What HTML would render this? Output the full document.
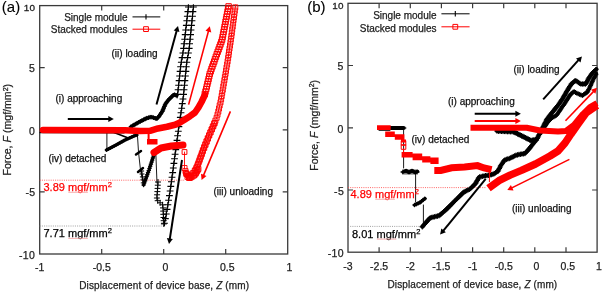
<!DOCTYPE html>
<html><head><meta charset="utf-8"><style>
html,body{margin:0;padding:0;background:#fff;width:602px;height:292px;overflow:hidden}
svg{display:block;font-family:"Liberation Sans",sans-serif;filter:blur(0.3px)}
</style></head><body>
<svg width="602" height="292" viewBox="0 0 602 292">
<rect x="39.7" y="5.6" width="248.0" height="248.4" fill="none" stroke="#3a3a3a" stroke-width="1.3"/>
<path d="M101.7,254.0v-5M101.7,5.6v5M163.7,254.0v-5M163.7,5.6v5M225.7,254.0v-5M225.7,5.6v5M39.7,67.7h5M287.7,67.7h-5M39.7,129.8h5M287.7,129.8h-5M39.7,191.9h5M287.7,191.9h-5" stroke="#3a3a3a" stroke-width="1.2" fill="none"/>
<line x1="39.7" y1="180.2" x2="185" y2="180.2" stroke="#ff4040" stroke-width="0.8" stroke-dasharray="1,1.2"/>
<line x1="39.7" y1="226" x2="164" y2="226" stroke="#888" stroke-width="0.8" stroke-dasharray="1,1.2"/>
<polyline points="40.0,132.6 124.0,133.0" fill="none" stroke="#000" stroke-width="1.2" stroke-linejoin="round" stroke-linecap="round"/>
<polyline points="106.9,133.0 106.9,149.0" fill="none" stroke="#000" stroke-width="0.9" stroke-linejoin="round" stroke-linecap="round"/>
<polyline points="106.5,150.0 116.0,145.0 125.0,140.0 134.0,136.0 137.0,135.0" fill="none" stroke="#000" stroke-width="3.2" stroke-linejoin="round" stroke-linecap="round"/>
<path d="M104.7,150.0h3.6M106.5,148.2v3.6M106.6,149.0h3.6M108.4,147.2v3.6M108.6,148.0h3.6M110.4,146.2v3.6M110.5,146.9h3.6M112.3,145.1v3.6M112.5,145.9h3.6M114.3,144.1v3.6M114.4,144.9h3.6M116.2,143.1v3.6M116.4,143.8h3.6M118.2,142.0v3.6M118.3,142.7h3.6M120.1,140.9v3.6M120.2,141.7h3.6M122.0,139.9v3.6M122.1,140.6h3.6M123.9,138.8v3.6M124.1,139.6h3.6M125.9,137.8v3.6M126.1,138.7h3.6M127.9,136.9v3.6M128.1,137.8h3.6M129.9,136.0v3.6M130.1,136.9h3.6M131.9,135.1v3.6M132.1,136.0h3.6M133.9,134.2v3.6M134.2,135.3h3.6M136.0,133.5v3.6" stroke="#000" stroke-width="1" fill="none"/>
<polyline points="114.0,132.5 127.0,137.5" fill="none" stroke="#000" stroke-width="1.6" stroke-linejoin="round" stroke-linecap="round"/>
<polyline points="137.5,136.0 138.5,152.0 140.5,170.0 143.6,185.0" fill="none" stroke="#000" stroke-width="0.9" stroke-linejoin="round" stroke-linecap="round"/>
<polyline points="136.0,154.5 141.0,151.0" fill="none" stroke="#000" stroke-width="2.5" stroke-linejoin="round" stroke-linecap="round"/>
<polyline points="138.0,172.0 143.0,168.0" fill="none" stroke="#000" stroke-width="2.5" stroke-linejoin="round" stroke-linecap="round"/>
<path d="M139.1,171.0h5.0M141.6,168.5v5.0M139.5,174.0h5.0M142.0,171.5v5.0M139.9,176.9h5.0M142.4,174.4v5.0M140.4,179.9h5.0M142.9,177.4v5.0M140.8,182.9h5.0M143.3,180.4v5.0" stroke="#000" stroke-width="1" fill="none"/>
<polyline points="143.6,185.0 149.0,170.0 154.0,154.6" fill="none" stroke="#000" stroke-width="3.2" stroke-linejoin="round" stroke-linecap="round"/>
<path d="M141.4,185.0h4.4M143.6,182.8v4.4M142.1,182.9h4.4M144.3,180.7v4.4M142.9,180.9h4.4M145.1,178.7v4.4M143.6,178.8h4.4M145.8,176.6v4.4M144.4,176.7h4.4M146.6,174.5v4.4M145.1,174.7h4.4M147.3,172.5v4.4M145.9,172.6h4.4M148.1,170.4v4.4M146.6,170.5h4.4M148.8,168.3v4.4M147.3,168.4h4.4M149.5,166.2v4.4M148.0,166.3h4.4M150.2,164.1v4.4M148.7,164.2h4.4M150.9,162.0v4.4M149.4,162.1h4.4M151.6,159.9v4.4M150.0,160.1h4.4M152.2,157.9v4.4M150.7,158.0h4.4M152.9,155.8v4.4M151.4,155.9h4.4M153.6,153.7v4.4" stroke="#000" stroke-width="1" fill="none"/>
<polyline points="155.9,154.6 157.0,183.0" fill="none" stroke="#000" stroke-width="0.9" stroke-linejoin="round" stroke-linecap="round"/>
<path d="M155.0,182.0h6.0M158.0,179.0v6.0M154.8,185.2h6.0M157.8,182.2v6.0M154.6,188.4h6.0M157.6,185.4v6.0M154.4,191.6h6.0M157.4,188.6v6.0M154.1,194.8h6.0M157.1,191.8v6.0M153.9,198.0h6.0M156.9,195.0v6.0M154.7,200.7h6.0M157.7,197.7v6.0M157.1,202.8h6.0M160.1,199.8v6.0M159.6,204.8h6.0M162.6,201.8v6.0M160.0,207.9h6.0M163.0,204.9v6.0M160.2,211.1h6.0M163.2,208.1v6.0M160.3,214.3h6.0M163.3,211.3v6.0M160.5,217.5h6.0M163.5,214.5v6.0M160.7,220.7h6.0M163.7,217.7v6.0M160.9,223.9h6.0M163.9,220.9v6.0" stroke="#000" stroke-width="1" fill="none"/>
<polyline points="130.9,126.8 139.5,121.8 146.7,118.2 151.0,116.9 153.9,117.8 156.7,118.8 158.9,116.5 162.5,111.0 165.4,104.0 168.2,100.2 171.1,97.3 174.0,94.5 176.5,95.5" fill="none" stroke="#000" stroke-width="3.6" stroke-linejoin="round" stroke-linecap="round"/>
<path d="M128.6,126.8h4.6M130.9,124.5v4.6M130.2,125.9h4.6M132.5,123.6v4.6M131.7,125.0h4.6M134.0,122.7v4.6M133.3,124.1h4.6M135.6,121.8v4.6M134.8,123.2h4.6M137.1,120.9v4.6M136.4,122.3h4.6M138.7,120.0v4.6M138.0,121.4h4.6M140.3,119.1v4.6M139.6,120.6h4.6M141.9,118.3v4.6M141.2,119.8h4.6M143.5,117.5v4.6M142.8,119.0h4.6M145.1,116.7v4.6M144.4,118.2h4.6M146.7,115.9v4.6M146.1,117.7h4.6M148.4,115.4v4.6M147.8,117.2h4.6M150.1,114.9v4.6M149.6,117.2h4.6M151.9,114.9v4.6M151.3,117.7h4.6M153.6,115.4v4.6M153.0,118.3h4.6M155.3,116.0v4.6M154.6,118.6h4.6M156.9,116.3v4.6M155.9,117.3h4.6M158.2,115.0v4.6M157.0,115.9h4.6M159.3,113.6v4.6M158.0,114.4h4.6M160.3,112.1v4.6M159.0,112.9h4.6M161.3,110.6v4.6M160.0,111.4h4.6M162.3,109.1v4.6M160.7,109.8h4.6M163.0,107.5v4.6M161.4,108.1h4.6M163.7,105.8v4.6M162.1,106.4h4.6M164.4,104.1v4.6M162.8,104.8h4.6M165.1,102.5v4.6M163.7,103.2h4.6M166.0,100.9v4.6M164.7,101.8h4.6M167.0,99.5v4.6M165.8,100.3h4.6M168.1,98.0v4.6M167.1,99.0h4.6M169.4,96.7v4.6M168.3,97.8h4.6M170.6,95.5v4.6M169.6,96.5h4.6M171.9,94.2v4.6M170.9,95.3h4.6M173.2,93.0v4.6M172.4,94.8h4.6M174.7,92.5v4.6M174.0,95.4h4.6M176.3,93.1v4.6" stroke="#000" stroke-width="1" fill="none"/>
<polyline points="188.5,6.0 183.4,50.0 180.8,65.0 177.2,98.0" fill="none" stroke="#000" stroke-width="1" stroke-linejoin="round" stroke-linecap="round"/>
<polyline points="193.5,6.0 189.0,50.0 186.8,62.0 183.2,98.0 179.1,125.0 170.3,190.0 166.4,213.6 164.0,226.0" fill="none" stroke="#000" stroke-width="1" stroke-linejoin="round" stroke-linecap="round"/>
<path d="M185.0,7.0h6.8M188.4,4.3v5.4M184.5,11.6h6.8M187.9,8.9v5.4M183.9,16.2h6.8M187.3,13.5v5.4M183.4,20.8h6.8M186.8,18.1v5.4M182.9,25.4h6.8M186.3,22.7v5.4M182.3,30.0h6.8M185.7,27.3v5.4M181.8,34.6h6.8M185.2,31.9v5.4M181.3,39.2h6.8M184.7,36.5v5.4M180.7,43.8h6.8M184.1,41.1v5.4M180.2,48.4h6.8M183.6,45.7v5.4M179.5,53.0h6.8M182.9,50.3v5.4M178.7,57.6h6.8M182.1,54.9v5.4M177.9,62.2h6.8M181.3,59.5v5.4M177.2,66.8h6.8M180.6,64.1v5.4M176.7,71.4h6.8M180.1,68.7v5.4M176.2,76.0h6.8M179.6,73.3v5.4M175.7,80.6h6.8M179.1,77.9v5.4M175.2,85.2h6.8M178.6,82.5v5.4M174.7,89.8h6.8M178.1,87.1v5.4M174.2,94.4h6.8M177.6,91.7v5.4" stroke="#000" stroke-width="1.1" fill="none"/>
<path d="M190.0,7.0h6.8M193.4,4.3v5.4M189.5,11.6h6.8M192.9,8.9v5.4M189.1,16.2h6.8M192.5,13.5v5.4M188.6,20.8h6.8M192.0,18.1v5.4M188.1,25.4h6.8M191.5,22.7v5.4M187.6,30.0h6.8M191.0,27.3v5.4M187.2,34.6h6.8M190.6,31.9v5.4M186.7,39.2h6.8M190.1,36.5v5.4M186.2,43.8h6.8M189.6,41.1v5.4M185.8,48.4h6.8M189.2,45.7v5.4M185.0,53.0h6.8M188.4,50.3v5.4M184.2,57.6h6.8M187.6,54.9v5.4M183.4,62.2h6.8M186.8,59.5v5.4M182.9,66.8h6.8M186.3,64.1v5.4M182.5,71.4h6.8M185.9,68.7v5.4M182.0,76.0h6.8M185.4,73.3v5.4M181.5,80.6h6.8M184.9,77.9v5.4M181.1,85.2h6.8M184.5,82.5v5.4M180.6,89.8h6.8M184.0,87.1v5.4M180.2,94.4h6.8M183.6,91.7v5.4M179.6,99.0h6.8M183.0,96.3v5.4M178.9,103.6h6.8M182.3,100.9v5.4M178.3,108.2h6.8M181.7,105.5v5.4M177.6,112.8h6.8M181.0,110.1v5.4M176.9,117.4h6.8M180.3,114.7v5.4M176.2,122.0h6.8M179.6,119.3v5.4M175.5,126.6h6.8M178.9,123.9v5.4M174.9,131.2h6.8M178.3,128.5v5.4M174.2,135.8h6.8M177.6,133.1v5.4M173.6,140.4h6.8M177.0,137.7v5.4M173.0,145.0h6.8M176.4,142.3v5.4M172.4,149.6h6.8M175.8,146.9v5.4M171.7,154.2h6.8M175.1,151.5v5.4M171.1,158.8h6.8M174.5,156.1v5.4M170.5,163.4h6.8M173.9,160.7v5.4M169.9,168.0h6.8M173.3,165.3v5.4M169.3,172.6h6.8M172.7,169.9v5.4M168.6,177.2h6.8M172.0,174.5v5.4M168.0,181.8h6.8M171.4,179.1v5.4M167.4,186.4h6.8M170.8,183.7v5.4M166.7,191.0h6.8M170.1,188.3v5.4M166.0,195.6h6.8M169.4,192.9v5.4M165.2,200.2h6.8M168.6,197.5v5.4M164.5,204.8h6.8M167.9,202.1v5.4M163.7,209.4h6.8M167.1,206.7v5.4M162.9,214.0h6.8M166.3,211.3v5.4M162.0,218.6h6.8M165.4,215.9v5.4M161.1,223.2h6.8M164.5,220.5v5.4" stroke="#000" stroke-width="1.1" fill="none"/>
<polyline points="43.0,130.0 125.0,130.2 140.0,131.0 150.0,130.8 158.0,128.4 167.0,126.8 175.0,124.8 180.0,122.5 185.0,119.4 190.0,116.2 195.0,112.5 198.5,107.4 201.5,102.0 204.8,95.0" fill="none" stroke="#f00" stroke-width="6.6" stroke-linejoin="round" stroke-linecap="round"/>
<rect x="147.6" y="134" width="2" height="5" fill="#f00"/>
<polyline points="204.8,94.0 206.5,88.0 209.6,74.4 214.0,62.0 222.0,40.0 228.9,5.0" fill="none" stroke="#f00" stroke-width="1" stroke-linejoin="round" stroke-linecap="round"/>
<path d="M202.1,91.3h5.4v5.4h-5.4zM202.8,88.8h5.4v5.4h-5.4zM203.5,86.3h5.4v5.4h-5.4zM204.1,83.8h5.4v5.4h-5.4zM204.7,81.2h5.4v5.4h-5.4zM205.3,78.7h5.4v5.4h-5.4zM205.9,76.2h5.4v5.4h-5.4zM206.5,73.6h5.4v5.4h-5.4zM207.1,71.1h5.4v5.4h-5.4zM208.0,68.7h5.4v5.4h-5.4zM208.8,66.2h5.4v5.4h-5.4zM209.7,63.8h5.4v5.4h-5.4zM210.6,61.3h5.4v5.4h-5.4zM211.5,58.9h5.4v5.4h-5.4zM212.3,56.4h5.4v5.4h-5.4zM213.2,54.0h5.4v5.4h-5.4zM214.1,51.5h5.4v5.4h-5.4zM215.0,49.1h5.4v5.4h-5.4zM215.9,46.7h5.4v5.4h-5.4zM216.8,44.2h5.4v5.4h-5.4zM217.7,41.8h5.4v5.4h-5.4zM218.6,39.3h5.4v5.4h-5.4zM219.4,36.9h5.4v5.4h-5.4zM219.9,34.3h5.4v5.4h-5.4zM220.4,31.8h5.4v5.4h-5.4zM220.9,29.2h5.4v5.4h-5.4zM221.4,26.7h5.4v5.4h-5.4zM221.9,24.1h5.4v5.4h-5.4zM222.4,21.6h5.4v5.4h-5.4zM222.9,19.0h5.4v5.4h-5.4zM223.4,16.5h5.4v5.4h-5.4zM223.9,13.9h5.4v5.4h-5.4zM224.4,11.4h5.4v5.4h-5.4zM224.9,8.8h5.4v5.4h-5.4zM225.4,6.2h5.4v5.4h-5.4zM225.9,3.7h5.4v5.4h-5.4z" stroke="#f00" stroke-width="1.0" fill="none"/>
<rect x="147" y="139" width="10.5" height="5.5" fill="#f00"/>
<polyline points="154.0,152.5 161.0,148.0 171.3,146.0 183.0,145.0" fill="none" stroke="#f00" stroke-width="7" stroke-linejoin="round" stroke-linecap="round"/>
<path d="M182.1,149.6h4.8v4.8h-4.8z" stroke="#f00" stroke-width="1" fill="none"/>
<polyline points="184.5,152.0 184.5,168.0" fill="none" stroke="#f00" stroke-width="0.9" stroke-linejoin="round" stroke-linecap="round"/>
<polyline points="184.5,168.0 187.3,177.0 191.4,175.0 195.5,170.0 199.6,160.0 203.0,150.0 207.0,140.0 213.5,125.0 217.0,117.0 221.0,100.0 227.5,62.0 230.8,40.0 235.6,5.0" fill="none" stroke="#f00" stroke-width="1" stroke-linejoin="round" stroke-linecap="round"/>
<path d="M182.0,165.5h5.0v5.0h-5.0zM183.0,168.6h5.0v5.0h-5.0zM183.9,171.6h5.0v5.0h-5.0zM185.0,174.4h5.0v5.0h-5.0zM187.8,173.0h5.0v5.0h-5.0zM190.2,170.9h5.0v5.0h-5.0zM192.2,168.5h5.0v5.0h-5.0zM193.7,165.7h5.0v5.0h-5.0zM195.0,162.7h5.0v5.0h-5.0zM196.2,159.8h5.0v5.0h-5.0zM197.3,156.8h5.0v5.0h-5.0zM198.4,153.8h5.0v5.0h-5.0zM199.4,150.7h5.0v5.0h-5.0zM200.4,147.7h5.0v5.0h-5.0zM201.6,144.7h5.0v5.0h-5.0zM202.8,141.8h5.0v5.0h-5.0zM204.0,138.8h5.0v5.0h-5.0zM205.2,135.8h5.0v5.0h-5.0zM206.5,132.9h5.0v5.0h-5.0zM207.8,130.0h5.0v5.0h-5.0zM209.0,127.0h5.0v5.0h-5.0zM210.3,124.1h5.0v5.0h-5.0zM211.6,121.2h5.0v5.0h-5.0zM212.9,118.2h5.0v5.0h-5.0zM214.1,115.3h5.0v5.0h-5.0zM215.0,112.2h5.0v5.0h-5.0zM215.8,109.1h5.0v5.0h-5.0zM216.5,106.0h5.0v5.0h-5.0zM217.2,102.9h5.0v5.0h-5.0zM218.0,99.8h5.0v5.0h-5.0zM218.6,96.7h5.0v5.0h-5.0zM219.2,93.5h5.0v5.0h-5.0zM219.7,90.3h5.0v5.0h-5.0zM220.3,87.2h5.0v5.0h-5.0zM220.8,84.0h5.0v5.0h-5.0zM221.3,80.9h5.0v5.0h-5.0zM221.9,77.7h5.0v5.0h-5.0zM222.4,74.6h5.0v5.0h-5.0zM223.0,71.4h5.0v5.0h-5.0zM223.5,68.3h5.0v5.0h-5.0zM224.0,65.1h5.0v5.0h-5.0zM224.6,62.0h5.0v5.0h-5.0zM225.1,58.8h5.0v5.0h-5.0zM225.6,55.6h5.0v5.0h-5.0zM226.1,52.5h5.0v5.0h-5.0zM226.5,49.3h5.0v5.0h-5.0zM227.0,46.1h5.0v5.0h-5.0zM227.5,43.0h5.0v5.0h-5.0zM228.0,39.8h5.0v5.0h-5.0zM228.4,36.6h5.0v5.0h-5.0zM228.9,33.5h5.0v5.0h-5.0zM229.3,30.3h5.0v5.0h-5.0zM229.7,27.1h5.0v5.0h-5.0zM230.2,24.0h5.0v5.0h-5.0zM230.6,20.8h5.0v5.0h-5.0zM231.0,17.6h5.0v5.0h-5.0zM231.5,14.5h5.0v5.0h-5.0zM231.9,11.3h5.0v5.0h-5.0zM232.3,8.1h5.0v5.0h-5.0zM232.8,4.9h5.0v5.0h-5.0z" stroke="#f00" stroke-width="0.9" fill="none"/>
<path d="M186.5,175.5h5.0v5.0h-5.0zM188.9,173.1h5.0v5.0h-5.0zM191.1,170.5h5.0v5.0h-5.0zM192.8,167.6h5.0v5.0h-5.0zM194.4,164.6h5.0v5.0h-5.0zM195.6,161.4h5.0v5.0h-5.0zM196.8,158.2h5.0v5.0h-5.0zM197.9,155.0h5.0v5.0h-5.0zM199.2,151.9h5.0v5.0h-5.0zM200.4,148.7h5.0v5.0h-5.0zM201.7,145.5h5.0v5.0h-5.0zM202.9,142.4h5.0v5.0h-5.0zM204.2,139.2h5.0v5.0h-5.0zM205.5,136.1h5.0v5.0h-5.0zM206.8,132.9h5.0v5.0h-5.0zM208.1,129.8h5.0v5.0h-5.0zM209.5,126.7h5.0v5.0h-5.0zM210.9,123.6h5.0v5.0h-5.0zM212.2,120.5h5.0v5.0h-5.0z" stroke="#f00" stroke-width="0.9" fill="none"/>
<path d="M183.6,170.6h4.8v4.8h-4.8zM184.6,171.8h4.8v4.8h-4.8zM185.6,173.1h4.8v4.8h-4.8zM186.6,174.3h4.8v4.8h-4.8zM187.6,175.6h4.8v4.8h-4.8zM189.0,174.8h4.8v4.8h-4.8zM190.3,174.0h4.8v4.8h-4.8zM191.7,173.1h4.8v4.8h-4.8zM192.9,172.1h4.8v4.8h-4.8zM193.7,170.7h4.8v4.8h-4.8zM194.5,169.3h4.8v4.8h-4.8zM195.3,167.9h4.8v4.8h-4.8zM196.1,166.6h4.8v4.8h-4.8z" stroke="#f00" stroke-width="1" fill="none"/>
<line x1="67.8" y1="119.0" x2="109.3" y2="119.0" stroke="#000" stroke-width="2"/>
<path d="M113.8,119.0L108.3,122.0L108.3,116.0z" fill="#000"/>
<line x1="156.5" y1="104.5" x2="176.8" y2="30.3" stroke="#000" stroke-width="2"/>
<path d="M178.0,26.0L179.4,32.1L173.7,30.5z" fill="#000"/>
<line x1="182.0" y1="160.0" x2="169.7" y2="239.6" stroke="#000" stroke-width="2"/>
<path d="M169.0,244.0L166.9,238.1L172.8,239.0z" fill="#000"/>
<line x1="188.6" y1="104.6" x2="208.6" y2="30.6" stroke="#f00" stroke-width="1.6"/>
<path d="M209.8,26.3L211.3,32.4L205.5,30.8z" fill="#f00"/>
<line x1="230.4" y1="111.4" x2="203.3" y2="175.9" stroke="#f00" stroke-width="1.6"/>
<path d="M201.6,180.0L201.0,173.8L206.5,176.1z" fill="#f00"/>
<text x="127.5" y="21" font-size="10" fill="#222" stroke="#222" stroke-width="0.25" text-anchor="end" >Single module</text>
<text x="127.5" y="33" font-size="10" fill="#222" stroke="#222" stroke-width="0.25" text-anchor="end" >Stacked modules</text>
<polyline points="132.9,16.9 159.9,16.9" fill="none" stroke="#000" stroke-width="1" stroke-linejoin="round" stroke-linecap="round"/>
<path d="M146,14.2v5.4" stroke="#000" stroke-width="1.1"/>
<polyline points="132.9,29.2 159.9,29.2" fill="none" stroke="#f00" stroke-width="1" stroke-linejoin="round" stroke-linecap="round"/>
<path d="M143.6,26.7h4.8v4.8h-4.8z" stroke="#f00" stroke-width="1" fill="none"/>
<text x="35.2" y="10.8" font-size="9.9" fill="#222" stroke="#222" stroke-width="0.3" text-anchor="end" letter-spacing="0.2">10</text>
<text x="34.8" y="72" font-size="10.5" fill="#222" stroke="#222" stroke-width="0.25" text-anchor="end" >5</text>
<text x="34.8" y="134.5" font-size="10.5" fill="#222" stroke="#222" stroke-width="0.25" text-anchor="end" >0</text>
<text x="35.6" y="196.4" font-size="10.5" fill="#222" stroke="#222" stroke-width="0.25" text-anchor="end" letter-spacing="0.4">-5</text>
<text x="35.3" y="258.9" font-size="10.5" fill="#222" stroke="#222" stroke-width="0.25" text-anchor="end" letter-spacing="0.4">-10</text>
<text x="39.7" y="270.6" font-size="10.5" fill="#222" stroke="#222" stroke-width="0.25" text-anchor="middle" >-1</text>
<text x="101.7" y="270.6" font-size="10.5" fill="#222" stroke="#222" stroke-width="0.25" text-anchor="middle" >-0.5</text>
<text x="165.3" y="270.6" font-size="10.5" fill="#222" stroke="#222" stroke-width="0.25" text-anchor="middle" >0</text>
<text x="227.3" y="270.6" font-size="10.5" fill="#222" stroke="#222" stroke-width="0.25" text-anchor="middle" >0.5</text>
<text x="289.3" y="270.6" font-size="10.5" fill="#222" stroke="#222" stroke-width="0.25" text-anchor="middle" >1</text>
<text x="164.2" y="289" font-size="10" fill="#222" stroke="#222" stroke-width="0.25" text-anchor="middle" letter-spacing="0.12">Displacement of device base, <tspan font-style="italic">Z</tspan> (mm)</text>
<text transform="translate(11,129.7) rotate(-90)" font-size="10.6" fill="#222" stroke="#222" stroke-width="0.25" text-anchor="middle">Force, <tspan font-style="italic">F</tspan> (mgf/mm<tspan font-size="7" dy="-3.5">2</tspan><tspan dy="3.5">)</tspan></text>
<text x="1.8" y="12.2" font-size="15" fill="#000" stroke="#000" stroke-width="0.12" text-anchor="start" >(a)</text>
<text x="55.5" y="101.6" font-size="10" fill="#111" stroke="#111" stroke-width="0.25" text-anchor="start" >(i) approaching</text>
<text x="111.5" y="56.5" font-size="10" fill="#111" stroke="#111" stroke-width="0.25" text-anchor="start" >(ii) loading</text>
<text x="48.5" y="162" font-size="10" fill="#111" stroke="#111" stroke-width="0.25" text-anchor="start" >(iv) detached</text>
<text x="213.5" y="195" font-size="10" fill="#111" stroke="#111" stroke-width="0.25" text-anchor="start" >(iii) unloading</text>
<text x="43.5" y="190.5" font-size="11" fill="#f00" stroke="#f00" stroke-width="0.25" text-anchor="start" >3.89 mgf/mm<tspan font-size="7.5" dy="-4">2</tspan></text>
<text x="43.5" y="237.3" font-size="11" fill="#000" stroke="#000" stroke-width="0.25" text-anchor="start" >7.71 mgf/mm<tspan font-size="7.5" dy="-4">2</tspan></text>
<path d="M68.3,192.3H87.9M68.3,238.4H87.9" stroke="#f59a9a" stroke-width="0.8"/>
<rect x="348.0" y="3.3" width="249.10000000000002" height="248.89999999999998" fill="none" stroke="#3a3a3a" stroke-width="1.3"/>
<path d="M379.1,252.2v-5M379.1,3.3v5M410.3,252.2v-5M410.3,3.3v5M441.4,252.2v-5M441.4,3.3v5M472.6,252.2v-5M472.6,3.3v5M503.7,252.2v-5M503.7,3.3v5M534.8,252.2v-5M534.8,3.3v5M566.0,252.2v-5M566.0,3.3v5M348.0,65.5h5M597.1,65.5h-5M348.0,127.8h5M597.1,127.8h-5M348.0,190.0h5M597.1,190.0h-5" stroke="#3a3a3a" stroke-width="1.2" fill="none"/>
<line x1="348.0" y1="187.6" x2="486" y2="187.6" stroke="#ff4040" stroke-width="0.8" stroke-dasharray="1,1.2"/>
<line x1="348.0" y1="226.4" x2="422" y2="226.4" stroke="#888" stroke-width="0.8" stroke-dasharray="1,1.2"/>
<polyline points="390.0,128.0 403.6,128.0" fill="none" stroke="#000" stroke-width="4.2" stroke-linejoin="round" stroke-linecap="round"/>
<polyline points="403.6,128.0 406.0,128.0" fill="none" stroke="#000" stroke-width="1" stroke-linejoin="round" stroke-linecap="round"/>
<polyline points="379.0,130.3 390.0,130.3" fill="none" stroke="#000" stroke-width="1" stroke-linejoin="round" stroke-linecap="round"/>
<polyline points="403.6,130.0 403.6,168.0" fill="none" stroke="#000" stroke-width="0.9" stroke-linejoin="round" stroke-linecap="round"/>
<polyline points="403.0,172.0 406.0,170.5 409.0,172.5 412.0,170.5 415.0,172.5 417.5,171.5" fill="none" stroke="#000" stroke-width="3.6" stroke-linejoin="round" stroke-linecap="round"/>
<path d="M400.4,172.0h5.2M403.0,169.4v5.2M402.4,172.0h5.2M405.0,169.4v5.2M404.4,172.0h5.2M407.0,169.4v5.2M406.4,172.0h5.2M409.0,169.4v5.2M408.4,172.0h5.2M411.0,169.4v5.2M410.4,172.0h5.2M413.0,169.4v5.2M412.4,172.0h5.2M415.0,169.4v5.2M414.4,172.0h5.2M417.0,169.4v5.2" stroke="#000" stroke-width="1" fill="none"/>
<polyline points="415.6,172.0 415.6,202.0" fill="none" stroke="#000" stroke-width="0.9" stroke-linejoin="round" stroke-linecap="round"/>
<polyline points="414.5,205.0 420.0,202.5 425.0,198.5" fill="none" stroke="#000" stroke-width="3.4" stroke-linejoin="round" stroke-linecap="round"/>
<path d="M412.3,205.0h4.4M414.5,202.8v4.4M414.1,204.2h4.4M416.3,202.0v4.4M415.9,203.3h4.4M418.1,201.1v4.4M417.8,202.5h4.4M420.0,200.3v4.4M419.3,201.3h4.4M421.5,199.1v4.4M420.9,200.0h4.4M423.1,197.8v4.4M422.5,198.8h4.4M424.7,196.6v4.4" stroke="#000" stroke-width="1" fill="none"/>
<polyline points="423.4,205.0 423.4,224.6" fill="none" stroke="#000" stroke-width="0.9" stroke-linejoin="round" stroke-linecap="round"/>
<polyline points="422.3,226.8 430.0,217.9 439.0,215.7 445.6,210.1 454.6,201.2 463.5,192.3 470.2,188.9 475.7,183.4 479.1,177.0 483.8,176.0 489.4,175.1 493.2,174.2 497.9,171.3 500.7,165.7 504.5,160.0 510.1,158.2 515.8,155.3 519.5,154.4 525.0,153.5 529.0,149.0 533.3,143.5 536.7,139.4 540.0,133.0 543.5,126.0 547.0,119.0 551.0,114.0 555.0,109.0 559.0,104.0 563.0,98.0 567.0,91.0 571.3,84.0 575.5,80.5 580.7,84.0 585.8,84.0 588.4,78.8 591.8,73.7 596.5,69.0" fill="none" stroke="#000" stroke-width="3.8" stroke-linejoin="round" stroke-linecap="round"/>
<path d="M419.6,226.8h5.4M422.3,224.1v5.4M420.6,225.7h5.4M423.3,223.0v5.4M421.6,224.5h5.4M424.3,221.8v5.4M422.5,223.4h5.4M425.2,220.7v5.4M423.5,222.3h5.4M426.2,219.6v5.4M424.5,221.1h5.4M427.2,218.4v5.4M425.5,220.0h5.4M428.2,217.3v5.4M426.5,218.9h5.4M429.2,216.2v5.4M427.5,217.8h5.4M430.2,215.1v5.4M429.0,217.5h5.4M431.7,214.8v5.4M430.4,217.1h5.4M433.1,214.4v5.4M431.9,216.8h5.4M434.6,214.1v5.4M433.4,216.4h5.4M436.1,213.7v5.4M434.8,216.1h5.4M437.5,213.4v5.4M436.3,215.7h5.4M439.0,213.0v5.4M437.4,214.8h5.4M440.1,212.1v5.4M438.6,213.8h5.4M441.3,211.1v5.4M439.7,212.8h5.4M442.4,210.1v5.4M440.8,211.8h5.4M443.5,209.1v5.4M442.0,210.9h5.4M444.7,208.2v5.4M443.1,209.9h5.4M445.8,207.2v5.4M444.2,208.8h5.4M446.9,206.1v5.4M445.3,207.8h5.4M448.0,205.1v5.4M446.3,206.7h5.4M449.0,204.0v5.4M447.4,205.7h5.4M450.1,203.0v5.4M448.5,204.6h5.4M451.2,201.9v5.4M449.5,203.6h5.4M452.2,200.9v5.4M450.6,202.5h5.4M453.3,199.8v5.4M451.7,201.4h5.4M454.4,198.7v5.4M452.7,200.4h5.4M455.4,197.7v5.4M453.8,199.3h5.4M456.5,196.6v5.4M454.8,198.3h5.4M457.5,195.6v5.4M455.9,197.2h5.4M458.6,194.5v5.4M457.0,196.1h5.4M459.7,193.4v5.4M458.0,195.1h5.4M460.7,192.4v5.4M459.1,194.0h5.4M461.8,191.3v5.4M460.1,193.0h5.4M462.8,190.3v5.4M461.3,192.0h5.4M464.0,189.3v5.4M462.6,191.4h5.4M465.3,188.7v5.4M464.0,190.7h5.4M466.7,188.0v5.4M465.3,190.0h5.4M468.0,187.3v5.4M466.7,189.3h5.4M469.4,186.6v5.4M467.9,188.5h5.4M470.6,185.8v5.4M469.0,187.4h5.4M471.7,184.7v5.4M470.0,186.4h5.4M472.7,183.7v5.4M471.1,185.3h5.4M473.8,182.6v5.4M472.1,184.3h5.4M474.8,181.6v5.4M473.1,183.2h5.4M475.8,180.5v5.4M473.8,181.8h5.4M476.5,179.1v5.4M474.5,180.5h5.4M477.2,177.8v5.4M475.2,179.2h5.4M477.9,176.5v5.4M475.9,177.9h5.4M478.6,175.2v5.4M476.9,176.9h5.4M479.6,174.2v5.4M478.4,176.6h5.4M481.1,173.9v5.4M479.9,176.3h5.4M482.6,173.6v5.4M481.3,176.0h5.4M484.0,173.3v5.4M482.8,175.7h5.4M485.5,173.0v5.4M484.3,175.5h5.4M487.0,172.8v5.4M485.8,175.3h5.4M488.5,172.6v5.4M487.2,175.0h5.4M489.9,172.3v5.4M488.7,174.6h5.4M491.4,171.9v5.4M490.2,174.3h5.4M492.9,171.6v5.4M491.5,173.6h5.4M494.2,170.9v5.4M492.8,172.8h5.4M495.5,170.1v5.4M494.0,172.0h5.4M496.7,169.3v5.4M495.3,171.2h5.4M498.0,168.5v5.4M495.9,169.8h5.4M498.6,167.1v5.4M496.6,168.5h5.4M499.3,165.8v5.4M497.3,167.2h5.4M500.0,164.5v5.4M497.9,165.8h5.4M500.6,163.1v5.4M498.8,164.6h5.4M501.5,161.9v5.4M499.6,163.3h5.4M502.3,160.6v5.4M500.4,162.1h5.4M503.1,159.4v5.4M501.3,160.8h5.4M504.0,158.1v5.4M502.3,159.8h5.4M505.0,157.1v5.4M503.7,159.4h5.4M506.4,156.7v5.4M505.1,158.9h5.4M507.8,156.2v5.4M506.6,158.5h5.4M509.3,155.8v5.4M508.0,157.9h5.4M510.7,155.2v5.4M509.3,157.2h5.4M512.0,154.5v5.4M510.6,156.6h5.4M513.3,153.9v5.4M512.0,155.9h5.4M514.7,153.2v5.4M513.3,155.2h5.4M516.0,152.5v5.4M514.8,154.9h5.4M517.5,152.2v5.4M516.2,154.5h5.4M518.9,151.8v5.4M517.7,154.3h5.4M520.4,151.6v5.4M519.2,154.0h5.4M521.9,151.3v5.4M520.7,153.8h5.4M523.4,151.1v5.4M522.2,153.5h5.4M524.9,150.8v5.4M523.2,152.5h5.4M525.9,149.8v5.4M524.2,151.4h5.4M526.9,148.7v5.4M525.2,150.2h5.4M527.9,147.5v5.4M526.2,149.1h5.4M528.9,146.4v5.4M527.1,148.0h5.4M529.8,145.3v5.4M528.0,146.8h5.4M530.7,144.1v5.4M529.0,145.6h5.4M531.7,142.9v5.4M529.9,144.4h5.4M532.6,141.7v5.4M530.8,143.2h5.4M533.5,140.5v5.4M531.8,142.1h5.4M534.5,139.4v5.4M532.7,140.9h5.4M535.4,138.2v5.4M533.7,139.8h5.4M536.4,137.1v5.4M534.5,138.5h5.4M537.2,135.8v5.4M535.2,137.2h5.4M537.9,134.5v5.4M535.8,135.8h5.4M538.5,133.1v5.4M536.5,134.5h5.4M539.2,131.8v5.4M537.2,133.2h5.4M539.9,130.5v5.4M537.9,131.8h5.4M540.6,129.1v5.4M538.6,130.5h5.4M541.3,127.8v5.4M539.2,129.1h5.4M541.9,126.4v5.4M539.9,127.8h5.4M542.6,125.1v5.4M540.6,126.4h5.4M543.3,123.7v5.4M541.2,125.1h5.4M543.9,122.4v5.4M541.9,123.8h5.4M544.6,121.1v5.4M542.6,122.4h5.4M545.3,119.7v5.4M543.3,121.1h5.4M546.0,118.4v5.4M543.9,119.7h5.4M546.6,117.0v5.4M544.7,118.5h5.4M547.4,115.8v5.4M545.7,117.3h5.4M548.4,114.6v5.4M546.6,116.1h5.4M549.3,113.4v5.4M547.5,115.0h5.4M550.2,112.3v5.4M548.5,113.8h5.4M551.2,111.1v5.4M549.4,112.6h5.4M552.1,109.9v5.4M550.3,111.4h5.4M553.0,108.7v5.4M551.3,110.3h5.4M554.0,107.6v5.4M552.2,109.1h5.4M554.9,106.4v5.4M553.2,107.9h5.4M555.9,105.2v5.4M554.1,106.8h5.4M556.8,104.1v5.4M555.0,105.6h5.4M557.7,102.9v5.4M556.0,104.4h5.4M558.7,101.7v5.4M556.8,103.2h5.4M559.5,100.5v5.4M557.7,102.0h5.4M560.4,99.3v5.4M558.5,100.7h5.4M561.2,98.0v5.4M559.3,99.5h5.4M562.0,96.8v5.4M560.2,98.2h5.4M562.9,95.5v5.4M560.9,96.9h5.4M563.6,94.2v5.4M561.7,95.6h5.4M564.4,92.9v5.4M562.4,94.3h5.4M565.1,91.6v5.4M563.2,93.0h5.4M565.9,90.3v5.4M563.9,91.7h5.4M566.6,89.0v5.4M564.7,90.4h5.4M567.4,87.7v5.4M565.4,89.1h5.4M568.1,86.4v5.4M566.2,87.9h5.4M568.9,85.2v5.4M567.0,86.6h5.4M569.7,83.9v5.4M567.8,85.3h5.4M570.5,82.6v5.4M568.6,84.0h5.4M571.3,81.3v5.4M569.7,83.1h5.4M572.4,80.4v5.4M570.9,82.1h5.4M573.6,79.4v5.4M572.0,81.1h5.4M574.7,78.4v5.4M573.2,80.8h5.4M575.9,78.1v5.4M574.5,81.6h5.4M577.2,78.9v5.4M575.7,82.5h5.4M578.4,79.8v5.4M577.0,83.3h5.4M579.7,80.6v5.4M578.2,84.0h5.4M580.9,81.3v5.4M579.7,84.0h5.4M582.4,81.3v5.4M581.2,84.0h5.4M583.9,81.3v5.4M582.7,84.0h5.4M585.4,81.3v5.4M583.6,83.0h5.4M586.3,80.3v5.4M584.3,81.6h5.4M587.0,78.9v5.4M585.0,80.3h5.4M587.7,77.6v5.4M585.6,79.0h5.4M588.3,76.3v5.4M586.4,77.7h5.4M589.1,75.0v5.4M587.3,76.4h5.4M590.0,73.7v5.4M588.1,75.2h5.4M590.8,72.5v5.4M588.9,74.0h5.4M591.6,71.3v5.4M589.9,72.9h5.4M592.6,70.2v5.4M591.0,71.8h5.4M593.7,69.1v5.4M592.1,70.7h5.4M594.8,68.0v5.4M593.1,69.7h5.4M595.8,67.0v5.4" stroke="#000" stroke-width="1.0" fill="none"/>
<polyline points="497.0,131.0 513.3,131.7 522.2,136.1 531.1,140.6 536.7,139.4" fill="none" stroke="#000" stroke-width="4.2" stroke-linejoin="round" stroke-linecap="round"/>
<path d="M494.2,131.0h5.6M497.0,128.2v5.6M495.7,131.1h5.6M498.5,128.3v5.6M497.2,131.1h5.6M500.0,128.3v5.6M498.7,131.2h5.6M501.5,128.4v5.6M500.2,131.3h5.6M503.0,128.5v5.6M501.7,131.3h5.6M504.5,128.5v5.6M503.2,131.4h5.6M506.0,128.6v5.6M504.7,131.5h5.6M507.5,128.7v5.6M506.2,131.5h5.6M509.0,128.7v5.6M507.7,131.6h5.6M510.5,128.8v5.6M509.2,131.6h5.6M512.0,128.8v5.6M510.7,131.8h5.6M513.5,129.0v5.6M512.0,132.4h5.6M514.8,129.6v5.6M513.4,133.1h5.6M516.2,130.3v5.6M514.7,133.8h5.6M517.5,131.0v5.6M516.0,134.4h5.6M518.8,131.6v5.6M517.4,135.1h5.6M520.2,132.3v5.6M518.7,135.8h5.6M521.5,133.0v5.6M520.1,136.4h5.6M522.9,133.6v5.6M521.4,137.1h5.6M524.2,134.3v5.6M522.8,137.8h5.6M525.6,135.0v5.6M524.1,138.5h5.6M526.9,135.7v5.6M525.4,139.1h5.6M528.2,136.3v5.6M526.8,139.8h5.6M529.6,137.0v5.6M528.1,140.5h5.6M530.9,137.7v5.6M529.6,140.3h5.6M532.4,137.5v5.6M531.0,140.0h5.6M533.8,137.2v5.6M532.5,139.7h5.6M535.3,136.9v5.6" stroke="#000" stroke-width="1.0" fill="none"/>
<polyline points="539.8,134.0 543.8,128.0 547.8,122.0 551.8,118.0 556.8,115.0 560.8,109.0 565.3,102.5 570.4,94.5 573.8,91.5 577.3,93.5 582.4,95.5 587.5,92.0 590.1,86.5 592.7,80.5 596.5,73.5" fill="none" stroke="#000" stroke-width="3.4" stroke-linejoin="round" stroke-linecap="round"/>
<path d="M537.3,134.0h5.0M539.8,131.5v5.0M538.1,132.8h5.0M540.6,130.3v5.0M539.0,131.5h5.0M541.5,129.0v5.0M539.8,130.3h5.0M542.3,127.8v5.0M540.6,129.0h5.0M543.1,126.5v5.0M541.5,127.8h5.0M544.0,125.3v5.0M542.3,126.5h5.0M544.8,124.0v5.0M543.1,125.3h5.0M545.6,122.8v5.0M544.0,124.0h5.0M546.5,121.5v5.0M544.8,122.8h5.0M547.3,120.3v5.0M545.7,121.6h5.0M548.2,119.1v5.0M546.8,120.5h5.0M549.3,118.0v5.0M547.8,119.5h5.0M550.3,117.0v5.0M548.9,118.4h5.0M551.4,115.9v5.0M550.1,117.5h5.0M552.6,115.0v5.0M551.4,116.8h5.0M553.9,114.3v5.0M552.7,116.0h5.0M555.2,113.5v5.0M553.9,115.2h5.0M556.4,112.7v5.0M554.9,114.1h5.0M557.4,111.6v5.0M555.7,112.8h5.0M558.2,110.3v5.0M556.6,111.6h5.0M559.1,109.1v5.0M557.4,110.3h5.0M559.9,107.8v5.0M558.2,109.1h5.0M560.7,106.6v5.0M559.1,107.9h5.0M561.6,105.4v5.0M559.9,106.6h5.0M562.4,104.1v5.0M560.8,105.4h5.0M563.3,102.9v5.0M561.6,104.2h5.0M564.1,101.7v5.0M562.5,102.9h5.0M565.0,100.4v5.0M563.3,101.7h5.0M565.8,99.2v5.0M564.1,100.4h5.0M566.6,97.9v5.0M564.9,99.1h5.0M567.4,96.6v5.0M565.7,97.9h5.0M568.2,95.4v5.0M566.5,96.6h5.0M569.0,94.1v5.0M567.4,95.4h5.0M569.9,92.9v5.0M568.3,94.2h5.0M570.8,91.7v5.0M569.4,93.2h5.0M571.9,90.7v5.0M570.5,92.2h5.0M573.0,89.7v5.0M571.7,91.7h5.0M574.2,89.2v5.0M573.0,92.5h5.0M575.5,90.0v5.0M574.3,93.2h5.0M576.8,90.7v5.0M575.7,93.8h5.0M578.2,91.3v5.0M577.1,94.4h5.0M579.6,91.9v5.0M578.4,94.9h5.0M580.9,92.4v5.0M579.8,95.5h5.0M582.3,93.0v5.0M581.1,94.7h5.0M583.6,92.2v5.0M582.3,93.8h5.0M584.8,91.3v5.0M583.6,93.0h5.0M586.1,90.5v5.0M584.8,92.1h5.0M587.3,89.6v5.0M585.5,90.9h5.0M588.0,88.4v5.0M586.2,89.5h5.0M588.7,87.0v5.0M586.8,88.2h5.0M589.3,85.7v5.0M587.5,86.8h5.0M590.0,84.3v5.0M588.1,85.4h5.0M590.6,82.9v5.0M588.7,84.0h5.0M591.2,81.5v5.0M589.3,82.7h5.0M591.8,80.2v5.0M589.9,81.3h5.0M592.4,78.8v5.0M590.5,79.9h5.0M593.0,77.4v5.0M591.2,78.6h5.0M593.7,76.1v5.0M591.9,77.3h5.0M594.4,74.8v5.0M592.6,76.0h5.0M595.1,73.5v5.0M593.4,74.7h5.0M595.9,72.2v5.0" stroke="#000" stroke-width="1.0" fill="none"/>
<path d="M377,125.2H390.7V130.1H377zM385.2,131.5H394.8V137H385.2zM394.8,134.2H404.4V139.7H394.8zM401,139.5H406V142.5H401zM401.6,152H412.6V157.5H401.6zM412.6,153.4H422.2V160.3H412.6zM422.2,156.2H430.4V162.5H422.2zM430.4,157.5H438.6V164H430.4z" fill="#f00"/>
<path d="M401.2,140.7h4.6v4.6h-4.6zM401.2,144.7h4.6v4.6h-4.6z" stroke="#f00" stroke-width="1" fill="none"/>
<polyline points="403.5,149.0 403.5,152.0" fill="none" stroke="#f00" stroke-width="1" stroke-linejoin="round" stroke-linecap="round"/>
<polyline points="434.3,170.5 440.8,170.5 451.6,167.8 464.6,167.0 477.5,165.6 484.0,168.0 491.6,169.7" fill="none" stroke="#f00" stroke-width="7" stroke-linejoin="miter" stroke-linecap="butt"/>
<polyline points="489.4,172.0 489.4,181.7" fill="none" stroke="#f00" stroke-width="1" stroke-linejoin="round" stroke-linecap="round"/>
<polyline points="470.5,127.8 526.7,127.8 540.0,130.5 558.0,131.5 566.0,131.0 574.0,125.0 583.0,114.0 590.0,107.0 597.0,103.0" fill="none" stroke="#f00" stroke-width="6" stroke-linejoin="round" stroke-linecap="butt"/>
<polyline points="488.5,188.3 498.9,180.7 510.1,175.1 521.4,170.4 535.5,164.0 550.0,156.0 558.0,151.0 565.0,143.0 571.0,134.0 578.0,124.0 586.0,113.0 597.0,105.5" fill="none" stroke="#f00" stroke-width="7.5" stroke-linejoin="round" stroke-linecap="butt"/>
<line x1="474.7" y1="113.8" x2="516.4" y2="113.8" stroke="#000" stroke-width="2"/>
<path d="M520.9,113.8L515.4,116.8L515.4,110.8z" fill="#000"/>
<line x1="474.7" y1="121.0" x2="516.4" y2="121.0" stroke="#f00" stroke-width="2"/>
<path d="M520.9,121.0L515.4,124.0L515.4,118.0z" fill="#f00"/>
<line x1="543.2" y1="99.4" x2="578.9" y2="59.7" stroke="#000" stroke-width="2"/>
<path d="M581.9,56.4L580.5,62.5L576.0,58.5z" fill="#000"/>
<line x1="485.7" y1="178.9" x2="443.0" y2="231.1" stroke="#000" stroke-width="2"/>
<path d="M440.1,234.6L441.3,228.4L445.9,232.2z" fill="#000"/>
<line x1="565.5" y1="120.7" x2="593.9" y2="91.1" stroke="#f00" stroke-width="1.6"/>
<path d="M597.0,87.8L595.4,93.8L591.0,89.7z" fill="#f00"/>
<line x1="569.4" y1="159.4" x2="511.3" y2="188.1" stroke="#f00" stroke-width="1.6"/>
<path d="M507.3,190.1L510.9,185.0L513.6,190.4z" fill="#f00"/>
<text x="436.5" y="19.2" font-size="10" fill="#222" stroke="#222" stroke-width="0.25" text-anchor="end" >Single module</text>
<text x="436.5" y="31.5" font-size="10" fill="#222" stroke="#222" stroke-width="0.25" text-anchor="end" >Stacked modules</text>
<polyline points="441.8,13.8 469.2,13.8" fill="none" stroke="#000" stroke-width="1" stroke-linejoin="round" stroke-linecap="round"/>
<path d="M455.3,11.1v5.4" stroke="#000" stroke-width="1.1"/>
<polyline points="441.8,26.8 469.2,26.8" fill="none" stroke="#f00" stroke-width="1" stroke-linejoin="round" stroke-linecap="round"/>
<path d="M452.9,24.4h4.8v4.8h-4.8z" stroke="#f00" stroke-width="1" fill="none"/>
<text x="343.6" y="8.7" font-size="9.9" fill="#222" stroke="#222" stroke-width="0.3" text-anchor="end" letter-spacing="0.2">10</text>
<text x="343.4" y="70" font-size="10.5" fill="#222" stroke="#222" stroke-width="0.25" text-anchor="end" >5</text>
<text x="343.4" y="132.5" font-size="10.5" fill="#222" stroke="#222" stroke-width="0.25" text-anchor="end" >0</text>
<text x="344.2" y="194.5" font-size="10.5" fill="#222" stroke="#222" stroke-width="0.25" text-anchor="end" letter-spacing="0.4">-5</text>
<text x="344.1" y="257" font-size="10.5" fill="#222" stroke="#222" stroke-width="0.25" text-anchor="end" letter-spacing="0.4">-10</text>
<text x="348.0" y="270" font-size="10.5" fill="#222" stroke="#222" stroke-width="0.25" text-anchor="middle" >-3</text>
<text x="379.1" y="270" font-size="10.5" fill="#222" stroke="#222" stroke-width="0.25" text-anchor="middle" >-2.5</text>
<text x="410.3" y="270" font-size="10.5" fill="#222" stroke="#222" stroke-width="0.25" text-anchor="middle" >-2</text>
<text x="441.4" y="270" font-size="10.5" fill="#222" stroke="#222" stroke-width="0.25" text-anchor="middle" >-1.5</text>
<text x="472.6" y="270" font-size="10.5" fill="#222" stroke="#222" stroke-width="0.25" text-anchor="middle" >-1</text>
<text x="503.7" y="270" font-size="10.5" fill="#222" stroke="#222" stroke-width="0.25" text-anchor="middle" >-0.5</text>
<text x="536.5" y="270" font-size="10.5" fill="#222" stroke="#222" stroke-width="0.25" text-anchor="middle" >0</text>
<text x="567.7" y="270" font-size="10.5" fill="#222" stroke="#222" stroke-width="0.25" text-anchor="middle" >0.5</text>
<text x="598.8" y="270" font-size="10.5" fill="#222" stroke="#222" stroke-width="0.25" text-anchor="middle" >1</text>
<text x="472.4" y="287.5" font-size="10" fill="#222" stroke="#222" stroke-width="0.25" text-anchor="middle" letter-spacing="0.12">Displacement of device base, <tspan font-style="italic">Z</tspan> (mm)</text>
<text transform="translate(317.7,125.3) rotate(-90)" font-size="10.5" fill="#222" stroke="#222" stroke-width="0.25" text-anchor="middle">Force, <tspan font-style="italic">F</tspan> (mgf/mm<tspan font-size="7" dy="-3.5">2</tspan><tspan dy="3.5">)</tspan></text>
<text x="307.2" y="11.9" font-size="15" fill="#000" stroke="#000" stroke-width="0.12" text-anchor="start" >(b)</text>
<text x="448" y="105" font-size="10" fill="#111" stroke="#111" stroke-width="0.25" text-anchor="start" >(i) approaching</text>
<text x="513.5" y="73.4" font-size="10" fill="#111" stroke="#111" stroke-width="0.25" text-anchor="start" >(ii) loading</text>
<text x="411.5" y="142.6" font-size="10" fill="#111" stroke="#111" stroke-width="0.25" text-anchor="start" >(iv) detached</text>
<text x="512" y="212.4" font-size="10" fill="#111" stroke="#111" stroke-width="0.25" text-anchor="start" >(iii) unloading</text>
<text x="350.5" y="197.5" font-size="11" fill="#f00" stroke="#f00" stroke-width="0.25" text-anchor="start" >4.89 mgf/mm<tspan font-size="7.5" dy="-4">2</tspan></text>
<text x="352" y="238" font-size="11" fill="#000" stroke="#000" stroke-width="0.25" text-anchor="start" >8.01 mgf/mm<tspan font-size="7.5" dy="-4">2</tspan></text>
<path d="M375.3,199.3H394.9M376.8,239.1H396.4" stroke="#f59a9a" stroke-width="0.8"/>
</svg>
</body></html>
